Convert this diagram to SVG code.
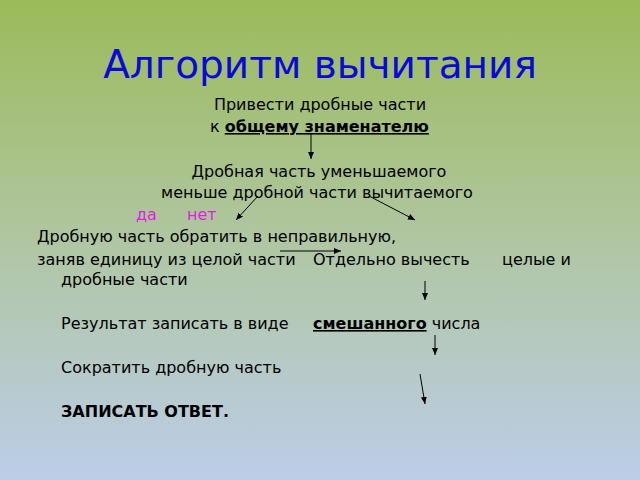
<svg xmlns="http://www.w3.org/2000/svg" width="640" height="480" viewBox="0 0 640 480">
<defs>
<linearGradient id="bg" x1="0" y1="0" x2="0" y2="1">
<stop offset="0" stop-color="#9bbb59"/>
<stop offset="0.5" stop-color="#b0c6a2"/>
<stop offset="1" stop-color="#bccde8"/>
</linearGradient>
<marker id="ah" markerWidth="8" markerHeight="8" refX="7" refY="4" orient="auto" markerUnits="userSpaceOnUse">
<path d="M0,1 L7,4 L0,7 Z" fill="#000"/>
</marker>
<style>
text{font-family:"DejaVu Sans","Noto Sans",sans-serif;font-size:16px;fill:#000}
.t{font-size:39px;fill:#0a0ad8}
.b{font-weight:bold;text-decoration:underline}
.bb{font-weight:bold}
.m{fill:#e020e0}
.c{stroke:#000;stroke-width:1;fill:none;marker-end:url(#ah)}
</style>
</defs>
<rect width="640" height="480" fill="url(#bg)"/>
<g id="title"><text class="t" x="320" y="78" text-anchor="middle">Алгоритм вычитания</text></g>
<g id="n1">
<text x="320" y="110" text-anchor="middle">Привести дробные части</text>
<text x="210" y="132">к <tspan class="b">общему знаменателю</tspan></text>
</g>
<g id="n2">
<text x="319" y="177" text-anchor="middle">Дробная часть уменьшаемого</text>
<text x="317" y="198" text-anchor="middle">меньше дробной части вычитаемого</text>
</g>
<g id="labels">
<text class="m" x="136" y="220">да</text>
<text class="m" x="187" y="220">нет</text>
</g>
<g id="n3">
<text x="37" y="242">Дробную часть обратить в неправильную,</text>
<text x="37" y="265">заняв единицу из целой части</text>
</g>
<g id="n4">
<text x="313" y="265">Отдельно вычесть</text>
<text x="502" y="265">целые и</text>
<text x="61" y="285">дробные части</text>
</g>
<g id="n5">
<text x="61" y="329">Результат записать в виде</text>
<text x="313" y="329"><tspan class="b">смешанного</tspan> числа</text>
</g>
<g id="n6"><text x="61" y="373">Сократить дробную часть</text></g>
<g id="n7"><text class="bb" x="61" y="417">ЗАПИСАТЬ ОТВЕТ.</text></g>
<g id="connectors">
<line class="c" x1="311" y1="134" x2="311" y2="159"/>
<line class="c" x1="258" y1="196" x2="236" y2="220"/>
<line class="c" x1="369" y1="196" x2="415" y2="220"/>
<line class="c" x1="280" y1="251" x2="341" y2="251"/>
<line class="c" x1="425" y1="281" x2="425" y2="300"/>
<line class="c" x1="435" y1="335" x2="435" y2="355"/>
<line class="c" x1="420" y1="374" x2="425" y2="404"/>
</g>
</svg>
